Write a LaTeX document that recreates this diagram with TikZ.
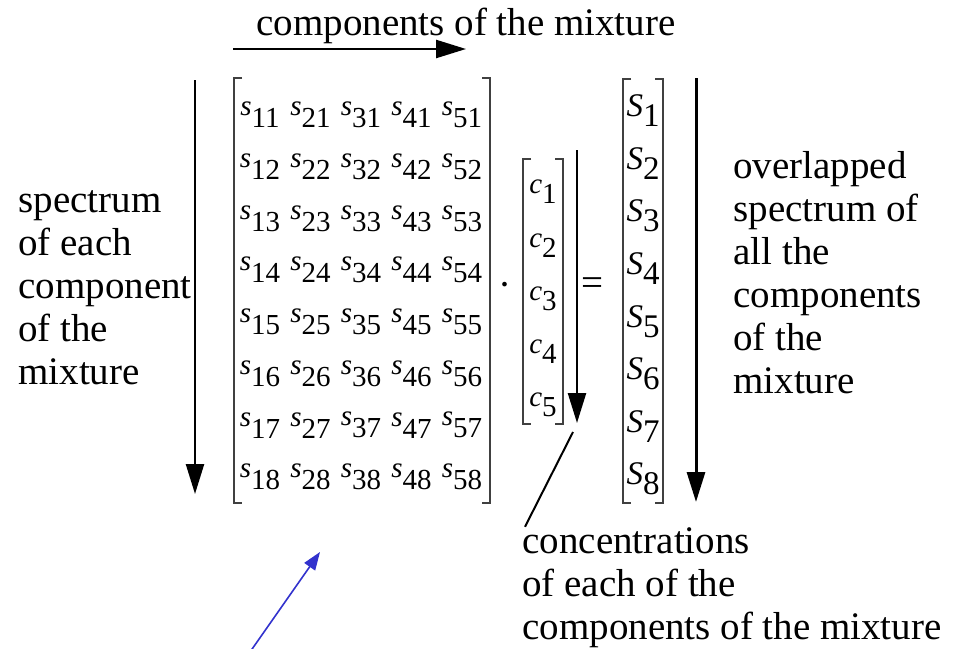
\documentclass[tikz,border=0pt]{standalone}
\usepackage{fontspec}
\setmainfont{Liberation Serif}
\usetikzlibrary{arrows.meta, positioning, calc}

\definecolor{pointer}{RGB}{50,50,205}
\newcommand{\elem}[3]{\textit{#1}\raisebox{-#3}{#2}}

\begin{document}
\begin{tikzpicture}[
    x=0.5pt, y=-0.5pt,
    txt/.style={font=\fontsize{19.5}{21.5}\selectfont, align=left,
                inner sep=0pt, anchor=base west},
    entry/.style={font=\fontsize{14.5}{14.5}\selectfont, inner sep=0pt},
    bigentry/.style={font=\fontsize{16.5}{16.5}\selectfont, inner sep=0pt},
    arr/.style={-{Triangle[length=15pt, width=9pt]}, line width=1.2pt},
    brk/.style={line width=0.6pt, draw=black!75},
]
\useasboundingbox (0,0) rectangle (953,648);

% labels (anchored at the baseline of their last line)
\node[txt] (top-lbl) at (256,35) {components of the mixture};
\node[txt] (left-lbl) at (18,384) {spectrum\\of each\\component\\of the\\mixture};
\node[txt] (right-lbl) at (733,393) {overlapped\\spectrum of\\all the\\components\\of the\\mixture};
\node[txt] (conc) at (522,639) {concentrations\\of each of the\\components of the mixture};

% matrix, concentrations and sum
\foreach \i in {1,...,8}
  \foreach \j in {1,...,5}
    \node[entry] (s-\i-\j) at ({260+50.5*(\j-1)}, {115+51.7*(\i-1)}) {\elem{s}{\j\i}{6pt}};
\foreach \i in {1,...,5}
  \node[entry] (c-\i) at (543, {192+53.2*(\i-1)}) {\elem{c}{\i}{5pt}};
\foreach \i in {1,...,8}
  \node[bigentry] (S-\i) at (643, {111+52.6*(\i-1)}) {\elem{S}{\i}{5pt}};

\node[font=\fontsize{19.5}{19.5}\selectfont] (dot) at (505,290) {\textperiodcentered};
\node[font=\fontsize{19.5}{19.5}\selectfont] (eq) at (592,287) {=};

% brackets
\foreach \l/\t/\r/\b in {234/78/490/503, 523/159/563/424, 623/79/663/503} {
  \draw[brk] (\l+8,\t) -- (\l,\t) -- (\l,\b) -- (\l+8,\b);
  \draw[brk] (\r-8,\t) -- (\r,\t) -- (\r,\b) -- (\r-8,\b);
}

% arrows
\coordinate (top-a) at (233,49);
\coordinate (top-b) at (466,49);
\coordinate (left-a) at (195,80);
\coordinate (left-b) at (195,494);
\coordinate (c-a) at (577,150);
\coordinate (c-b) at (577,423);
\coordinate (right-a) at (696,78);
\coordinate (right-b) at (696,502);
\coordinate (c-foot) at (573,432);
\coordinate (blue-a) at (250,652);
\coordinate (blue-b) at (320,552);

\draw[arr] (top-a) -- (top-b);
\draw[arr] (left-a) -- (left-b);
\draw[arr] (c-a) -- (c-b);
\draw[arr, line width=1.5pt] (right-a) -- (right-b);
\draw[line width=1pt] (c-foot) -- ([xshift=1.5pt]conc.north west);
\draw[-{Triangle[length=9pt, width=6.5pt]}, line width=0.8pt, draw=pointer, fill=pointer]
  (blue-a) -- (blue-b);

\end{tikzpicture}
\end{document}
